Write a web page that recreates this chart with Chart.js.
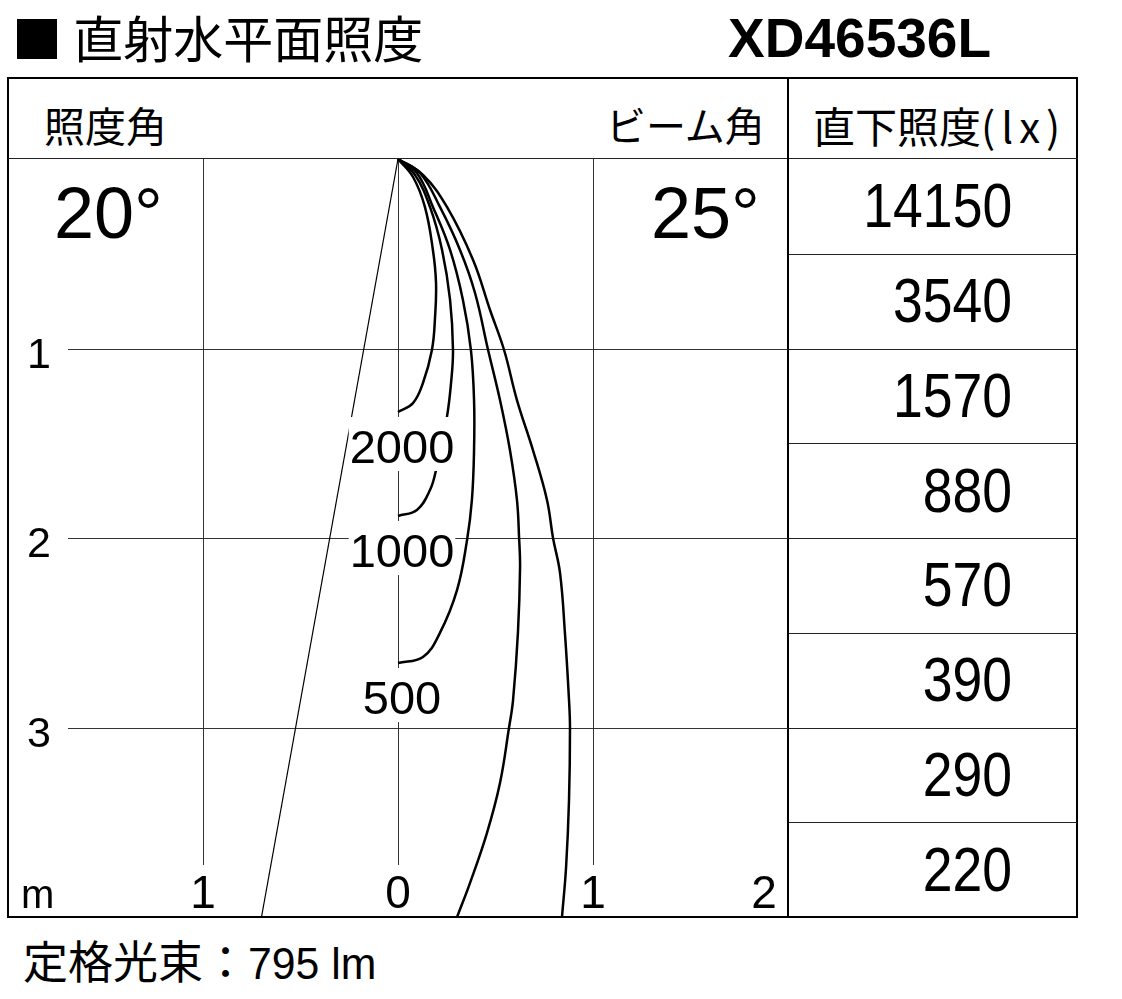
<!DOCTYPE html>
<html>
<head>
<meta charset="utf-8">
<script src="https://cdn.jsdelivr.net/npm/chart.js@4.4.1/dist/chart.umd.min.js"></script>
<style>
  body { margin: 0; width: 1122px; height: 999px; background: #fff; position: relative; overflow: hidden; }
  .abs { position: absolute; white-space: nowrap; color: #000; }
  .cjk { font-family: "Noto Sans CJK JP", sans-serif; }
  .num { font-family: "Liberation Sans", Arial, sans-serif; }
</style>
</head>
<body>
<div class="abs cjk" id="title" style="left:12px;top:11px;font-size:50px;line-height:50px;">■ 直射水平面照度</div>
<div class="abs num" id="model" style="right:131px;top:11px;font-size:55px;line-height:55px;font-weight:bold;">XD46536L</div>

<div class="abs" style="left:7px;top:77px;width:1071px;height:841px;border:2px solid #000;box-sizing:border-box;"></div>
<div class="abs" style="left:8px;top:158px;width:1070px;height:1px;background:#222;"></div>
<div class="abs" style="left:787px;top:78px;width:2px;height:839px;background:#000;"></div>

<div class="abs cjk" style="left:44px;top:104px;font-size:41px;line-height:41px;">照度角</div>
<div class="abs cjk" style="left:606px;top:104px;font-size:40px;line-height:40px;">ビーム角</div>
<div class="abs cjk" style="left:813px;top:104px;font-size:42px;line-height:42px;">直下照度<span style="letter-spacing:6px;">(lx)</span></div>

<canvas id="chart" width="780" height="758" style="position:absolute;left:8px;top:159px;"></canvas>
<div id="table"></div>

<div class="abs cjk" style="left:23px;top:937px;font-size:45px;line-height:45px;">定格光束：<span class="num" style="display:inline-block;transform:scaleX(0.95);transform-origin:left center;">795 lm</span></div>

<script>
// direct illuminance below the lamp, one value per 0.5 m
const distances = [0.5, 1.0, 1.5, 2.0, 2.5, 3.0, 3.5, 4.0];
const centerLux = [14150, 3540, 1570, 880, 570, 390, 290, 220];

const illumAngle = 20;
const beamAngle = 25;

const xTicks = [-1, 0, 1, 2];
const xTickLabels = ['1', '0', '1', '2'];
const yTicks = [1, 2, 3];
const yTickLabels = ['1', '2', '3'];

// half of the 20 deg cone, drawn on the left side
const beamLineX = [0, -0.70];
const beamLineY = [0, 4.0];

// isolux curves (metres)
const luxLevels = [2000, 1000, 500, 200, 100];
const curve2000X = [0, 0.077, 0.138, 0.179, 0.195, 0.190, 0.174, 0.128, 0.077, 0];
const curve2000Y = [0, 0.095, 0.253, 0.480, 0.654, 0.834, 1.008, 1.182, 1.288, 1.335];
const curve1000X = [0, 0.087, 0.164, 0.226, 0.267, 0.282, 0.272, 0.251, 0.195, 0.164, 0.097, 0];
const curve1000Y = [0, 0.084, 0.253, 0.480, 0.744, 1.008, 1.182, 1.361, 1.641, 1.747, 1.852, 1.884];
const curve500X = [0, 0.097, 0.179, 0.267, 0.333, 0.374, 0.390, 0.390, 0.379, 0.354, 0.303, 0.215, 0.128, 0];
const curve500Y = [0, 0.074, 0.253, 0.480, 0.744, 1.008, 1.272, 1.536, 1.799, 2.011, 2.274, 2.501, 2.628, 2.660];
const curve200X = [0, 0.113, 0.215, 0.318, 0.395, 0.462, 0.523, 0.574, 0.610, 0.621, 0.626, 0.615, 0.590, 0.569, 0.523, 0.456, 0.369, 0.303];
const curve200Y = [0, 0.074, 0.253, 0.480, 0.707, 1.008, 1.272, 1.536, 1.799, 2.000, 2.153, 2.501, 2.855, 3.003, 3.293, 3.557, 3.821, 4.000];
const curve100X = [0, 0.128, 0.251, 0.385, 0.472, 0.544, 0.610, 0.692, 0.764, 0.795, 0.831, 0.856, 0.877, 0.882, 0.877, 0.862, 0.841];
const curve100Y = [0, 0.084, 0.253, 0.533, 0.797, 1.008, 1.272, 1.536, 1.799, 2.000, 2.185, 2.501, 2.855, 3.003, 3.383, 3.736, 4.000];

const labelled = [2000, 1000, 500];

function pts(xs, ys) {
  return xs.map((x, i) => ({ x: x, y: ys[i] }));
}

const curves = [
  pts(curve2000X, curve2000Y),
  pts(curve1000X, curve1000Y),
  pts(curve500X, curve500Y),
  pts(curve200X, curve200Y),
  pts(curve100X, curve100Y)
];

// table on the right
const table = document.getElementById('table');
const rowH = 758 / distances.length;
centerLux.forEach((v, i) => {
  const cy = 159 + rowH * i + rowH / 2 - 1;
  const d = document.createElement('div');
  d.className = 'abs num';
  d.textContent = v;
  d.style.cssText = 'right:110px;top:' + (cy - 31) + 'px;font-size:63px;line-height:63px;transform:scaleX(0.85);transform-origin:right center;';
  table.appendChild(d);
  if (i > 0) {
    const l = document.createElement('div');
    l.className = 'abs';
    l.style.cssText = 'left:789px;top:' + Math.round(159 + rowH * i) + 'px;width:288px;height:1px;background:#222;';
    table.appendChild(l);
  }
});

const gridPlugin = {
  id: 'grid',
  beforeDatasetsDraw(chart) {
    const { ctx, chartArea, scales: { x, y } } = chart;
    ctx.save();
    ctx.strokeStyle = '#333';
    ctx.lineWidth = 1;
    yTicks.forEach(t => {
      const py = Math.round(y.getPixelForValue(t)) + 0.5;
      ctx.beginPath();
      ctx.moveTo(60, py);
      ctx.lineTo(chartArea.right, py);
      ctx.stroke();
    });
    xTicks.forEach(t => {
      if (t >= 2) return;
      const px = Math.round(x.getPixelForValue(t)) + 0.5;
      ctx.beginPath();
      ctx.moveTo(px, chartArea.top);
      ctx.lineTo(px, y.getPixelForValue(3.726));
      ctx.stroke();
    });
    ctx.restore();
  }
};

const textPlugin = {
  id: 'texts',
  afterDatasetsDraw(chart) {
    const { ctx, chartArea, scales: { x, y } } = chart;
    ctx.save();
    ctx.fillStyle = '#000';
    // isolux labels with white backing
    ctx.font = '47px "Liberation Sans", Arial, sans-serif';
    ctx.textAlign = 'center';
    ctx.textBaseline = 'alphabetic';
    labelled.forEach(lv => {
      const c = curves[luxLevels.indexOf(lv)];
      const end = c[c.length - 1];
      const cx = x.getPixelForValue(end.x) + 4;
      const base = y.getPixelForValue(end.y) + 51;
      const w = ctx.measureText(String(lv)).width;
      ctx.fillStyle = '#fff';
      ctx.fillRect(cx - w / 2 - 1, base - 46, w + 2, 54);
      ctx.fillStyle = '#000';
      ctx.fillText(String(lv), cx, base);
    });
    // y ticks
    ctx.font = '43px "Liberation Sans", Arial, sans-serif';
    yTicks.forEach((t, i) => {
      ctx.fillText(yTickLabels[i], 31, y.getPixelForValue(t) + 19);
    });
    // x ticks
    ctx.font = '46px "Liberation Sans", Arial, sans-serif';
    const base = chartArea.bottom - 9;
    xTicks.forEach((t, i) => {
      const px = Math.min(x.getPixelForValue(t), chartArea.right - 24);
      ctx.fillText(xTickLabels[i], px, base);
    });
    ctx.textAlign = 'left';
    ctx.font = '40px "Liberation Sans", Arial, sans-serif';
    ctx.fillText('m', 13, base);
    // angles
    ctx.font = '72px "Liberation Sans", Arial, sans-serif';
    ctx.fillText(illumAngle + '°', 46, 79);
    ctx.fillText(beamAngle + '°', 643, 79);
    ctx.restore();
  }
};

const datasets = curves.map((c, i) => ({
  label: luxLevels[i] + ' lx',
  data: c,
  showLine: true,
  borderColor: '#000',
  borderWidth: 2.5,
  tension: 0.4,
  pointRadius: 0,
  fill: false
}));
datasets.push({
  label: 'beam',
  data: pts(beamLineX, beamLineY),
  showLine: true,
  borderColor: '#000',
  borderWidth: 1.2,
  tension: 0,
  pointRadius: 0,
  fill: false
});

const ctx = document.getElementById('chart').getContext('2d');
new Chart(ctx, {
  type: 'scatter',
  data: { datasets: datasets },
  options: {
    responsive: false,
    animation: false,
    events: [],
    layout: { padding: 0 },
    plugins: { legend: { display: false }, tooltip: { enabled: false } },
    scales: {
      x: { type: 'linear', min: -2, max: 2, display: false },
      y: { type: 'linear', min: 0, max: 4, reverse: true, display: false }
    }
  },
  plugins: [gridPlugin, textPlugin]
});
</script>
</body>
</html>
